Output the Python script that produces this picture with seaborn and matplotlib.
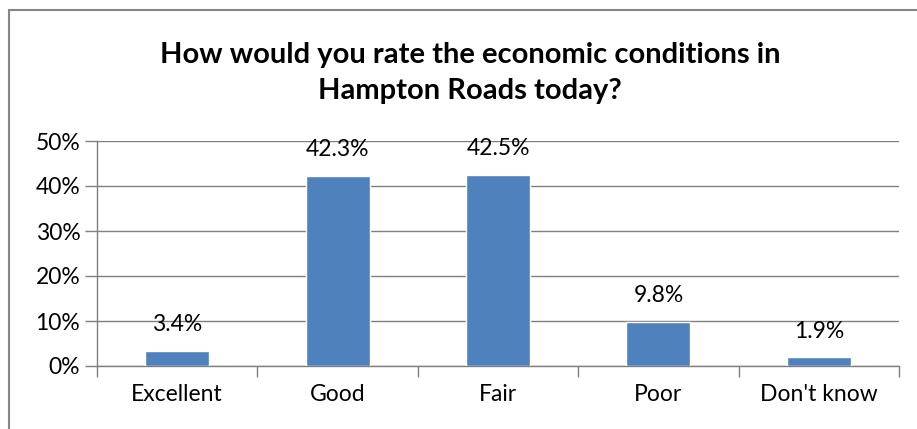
import seaborn as sns
import matplotlib.pyplot as plt
import pandas as pd
from matplotlib.lines import Line2D
from matplotlib.ticker import FixedLocator, PercentFormatter

# dados
categorias = ["Excellent", "Good", "Fair", "Poor", "Don't know"]
valores = [0.034, 0.423, 0.425, 0.098, 0.019]
titulo = "How would you rate the economic conditions in\nHampton Roads today?"

df = pd.DataFrame({"categoria": categorias, "valor": valores})

sns.set_style("white")
plt.rcParams["font.family"] = ["Lato", "DejaVu Sans"]

fig = plt.figure(figsize=(9.17, 4.29), dpi=100)
ax = fig.add_axes([97 / 917, 63 / 429, 802 / 917, 225 / 429])

sns.barplot(data=df, x="categoria", y="valor", color="#4F81BD", width=0.4,
            saturation=1, ax=ax, zorder=3)

ax.set_ylim(0, 0.5)
ax.set_xlim(-0.5, len(categorias) - 0.5)
ax.set_yticks([0, 0.1, 0.2, 0.3, 0.4, 0.5])
ax.yaxis.set_major_formatter(PercentFormatter(1.0, decimals=0))
ax.grid(axis="y", color="#7F7F7F", linewidth=1, zorder=0)
ax.set_xlabel("")
ax.set_ylabel("")

for s in ["top", "right"]:
    ax.spines[s].set_visible(False)
for s in ["left", "bottom"]:
    ax.spines[s].set_color("#7F7F7F")
    ax.spines[s].set_linewidth(1)

ax.tick_params(axis="y", length=9, width=1, color="#7F7F7F", labelsize=16.5, pad=3,
               left=True, labelcolor="black")
ax.tick_params(axis="x", which="major", length=0, labelsize=16.5, pad=13, labelcolor="black")
ax.xaxis.set_minor_locator(FixedLocator([i - 0.5 for i in range(len(categorias) + 1)]))
ax.tick_params(axis="x", which="minor", length=8, width=1, color="#7F7F7F", bottom=True)

for i, v in enumerate(valores):
    ax.annotate(f"{v * 100:.1f}%", (i, v), xytext=(0, 18.7), textcoords="offset points",
                ha="center", va="center", fontsize=16.5, color="black")

fig.text(470 / 917, 1 - 73 / 429, titulo, ha="center", va="center", fontsize=21,
         fontweight="bold", linespacing=1.45, color="black")

# borda do grafico (so esquerda e topo visiveis)
fig.add_artist(Line2D([9 / 917, 9 / 917], [0, 1 - 10 / 429], transform=fig.transFigure,
                      color="#868686", linewidth=1.5))
fig.add_artist(Line2D([9 / 917, 1], [1 - 10 / 429, 1 - 10 / 429], transform=fig.transFigure,
                      color="#868686", linewidth=1.5))

fig.savefig("out.png", dpi=100)
